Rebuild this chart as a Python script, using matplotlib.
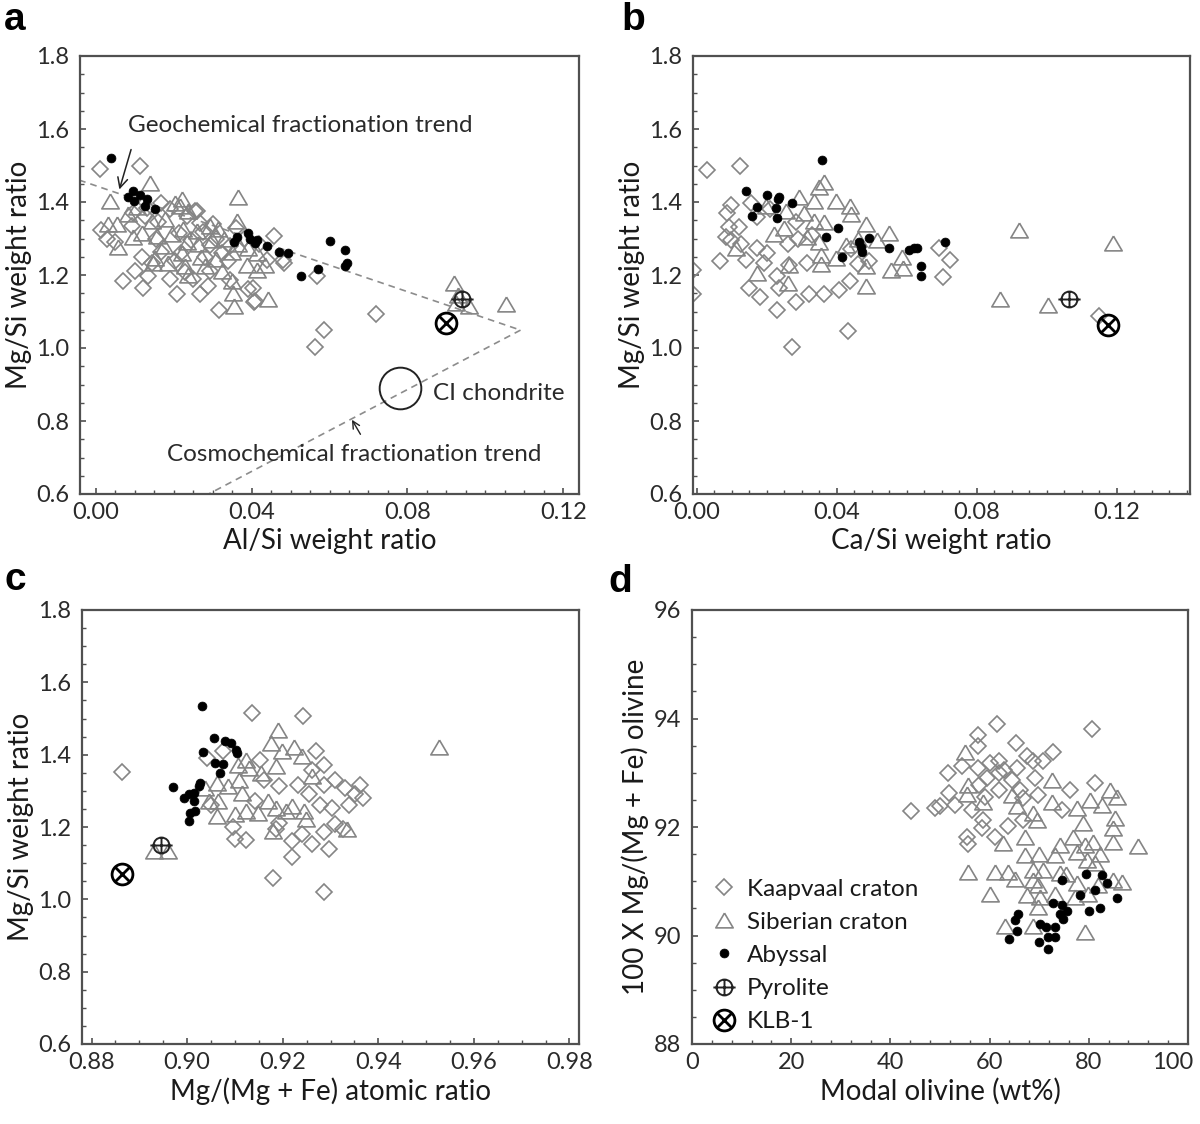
import matplotlib
matplotlib.use('Agg')
import matplotlib.pyplot as plt
from matplotlib.path import Path
from matplotlib.ticker import MultipleLocator, FormatStrFormatter, FuncFormatter

# ---------------- data ----------------
# panel a: Al/Si vs Mg/Si
a_kaapvaal = [(0.0011, 1.490), (0.0114, 1.499), (0.0015, 1.324), (0.0028, 1.300), (0.0071, 1.183),
              (0.0101, 1.210), (0.0122, 1.165), (0.0135, 1.197), (0.0127, 1.362), (0.0131, 1.384),
              (0.0208, 1.149), (0.0268, 1.148), (0.0289, 1.170), (0.0317, 1.105), (0.0392, 1.161),
              (0.0407, 1.127), (0.0458, 1.306), (0.0482, 1.241), (0.0567, 1.197), (0.0585, 1.049),
              (0.0562, 1.003), (0.0718, 1.092), (0.0268, 1.342), (0.0293, 1.282), (0.0340, 1.237),
              (0.0293, 1.210), (0.0323, 1.259), (0.0169, 1.264), (0.0204, 1.237), (0.0234, 1.362),
              (0.0259, 1.375), (0.0169, 1.398), (0.0190, 1.380), (0.0118, 1.250), (0.0144, 1.232),
              (0.0256, 1.374), (0.0230, 1.207), (0.0280, 1.250), (0.0300, 1.340), (0.0403, 1.164),
              (0.0408, 1.130), (0.0093, 1.335), (0.0155, 1.300), (0.0215, 1.315), (0.0245, 1.295),
              (0.0275, 1.318), (0.0310, 1.300), (0.0345, 1.280), (0.0360, 1.330), (0.0380, 1.300),
              (0.0420, 1.285), (0.0440, 1.240), (0.0483, 1.232), (0.0190, 1.190), (0.0250, 1.190),
              (0.0220, 1.260), (0.0160, 1.345), (0.0050, 1.290), (0.0345, 1.185), (0.0095, 1.370)]
a_siberian = [(0.0037, 1.402), (0.0032, 1.340), (0.0054, 1.340), (0.0058, 1.277), (0.0084, 1.366),
              (0.0097, 1.304), (0.0139, 1.451), (0.0144, 1.348), (0.0157, 1.308), (0.0178, 1.353),
              (0.0204, 1.398), (0.0221, 1.407), (0.0216, 1.389), (0.0238, 1.375), (0.0195, 1.313),
              (0.0225, 1.326), (0.0234, 1.291), (0.0221, 1.259), (0.0152, 1.246), (0.0148, 1.232),
              (0.0186, 1.232), (0.0229, 1.224), (0.0238, 1.201), (0.0263, 1.286), (0.0293, 1.335),
              (0.0315, 1.326), (0.0298, 1.295), (0.0366, 1.415), (0.0362, 1.348), (0.0366, 1.286),
              (0.0349, 1.264), (0.0323, 1.210), (0.0349, 1.183), (0.0353, 1.152), (0.0356, 1.116),
              (0.0388, 1.228), (0.0413, 1.214), (0.0435, 1.228), (0.0443, 1.134), (0.0413, 1.259),
              (0.0919, 1.178), (0.0929, 1.145), (0.0958, 1.116), (0.1052, 1.120), (0.0924, 1.124),
              (0.0120, 1.315), (0.0175, 1.280), (0.0270, 1.250), (0.0280, 1.225), (0.0330, 1.300),
              (0.0390, 1.275), (0.0105, 1.385), (0.0260, 1.320), (0.0310, 1.245)]
a_abyssal = [(0.0040, 1.520), (0.0082, 1.415), (0.0097, 1.431), (0.0099, 1.402), (0.0114, 1.420),
             (0.0127, 1.389), (0.0133, 1.408), (0.0152, 1.380), (0.0355, 1.290), (0.0362, 1.304),
             (0.0390, 1.315), (0.0396, 1.300), (0.0409, 1.288), (0.0415, 1.295), (0.0439, 1.279),
             (0.0471, 1.263), (0.0494, 1.261), (0.0526, 1.198), (0.0571, 1.216), (0.0600, 1.293),
             (0.0639, 1.269), (0.0639, 1.226), (0.0645, 1.232)]
a_pyrolite = (0.0939, 1.135)
a_klb1 = (0.0900, 1.068)
ci_chondrite = (0.078, 0.891)
geo_trend_x = [-0.0042, 0.109]
geo_trend_y = [1.460, 1.049]
cosmo_trend_x = [0.109, 0.029]
cosmo_trend_y = [1.049, 0.600]

# panel b: Ca/Si vs Mg/Si
b_kaapvaal = [(0.0031, 1.489), (0.0123, 1.500), (-0.0010, 1.213), (-0.0010, 1.149), (0.0066, 1.237),
              (0.0088, 1.371), (0.0098, 1.393), (0.0093, 1.332), (0.0121, 1.332), (0.0083, 1.304),
              (0.0098, 1.295), (0.0155, 1.398), (0.0174, 1.358), (0.0126, 1.286), (0.0141, 1.241),
              (0.0174, 1.273), (0.0202, 1.259), (0.0193, 1.232), (0.0150, 1.165), (0.0181, 1.139),
              (0.0231, 1.197), (0.0236, 1.165), (0.0231, 1.103), (0.0260, 1.286), (0.0284, 1.344),
              (0.0265, 1.228), (0.0284, 1.125), (0.0320, 1.148), (0.0317, 1.232), (0.0365, 1.148),
              (0.0406, 1.159), (0.0438, 1.183), (0.0434, 1.047), (0.0272, 1.002), (0.0494, 1.237),
              (0.0692, 1.275), (0.0725, 1.241), (0.0703, 1.194), (0.1149, 1.087), (0.0290, 1.300),
              (0.0330, 1.310), (0.0210, 1.380), (0.0440, 1.270), (0.0460, 1.230)]
b_siberian = [(0.0350, 1.442), (0.0365, 1.456), (0.0293, 1.415), (0.0336, 1.402), (0.0398, 1.402),
              (0.0198, 1.389), (0.0255, 1.375), (0.0308, 1.371), (0.0438, 1.389), (0.0441, 1.366),
              (0.0336, 1.347), (0.0365, 1.344), (0.0484, 1.340), (0.0222, 1.313), (0.0317, 1.304),
              (0.0350, 1.290), (0.0427, 1.282), (0.0517, 1.295), (0.0549, 1.315), (0.0112, 1.273),
              (0.0174, 1.206), (0.0260, 1.179), (0.0355, 1.255), (0.0398, 1.246), (0.0355, 1.231),
              (0.0484, 1.224), (0.0484, 1.170), (0.0556, 1.215), (0.0589, 1.219), (0.0265, 1.228),
              (0.0921, 1.322), (0.0866, 1.135), (0.1003, 1.118), (0.1189, 1.288), (0.0586, 1.250),
              (0.0460, 1.300), (0.0250, 1.330)]
b_abyssal = [(0.0358, 1.516), (0.0142, 1.431), (0.0200, 1.420), (0.0236, 1.415), (0.0234, 1.407),
             (0.0174, 1.386), (0.0226, 1.384), (0.0274, 1.398), (0.0231, 1.356), (0.0158, 1.362),
             (0.0403, 1.329), (0.0370, 1.304), (0.0463, 1.290), (0.0470, 1.277), (0.0474, 1.264),
             (0.0494, 1.302), (0.0551, 1.273), (0.0608, 1.268), (0.0620, 1.273), (0.0629, 1.273),
             (0.0642, 1.224), (0.0642, 1.197), (0.0711, 1.290), (0.0417, 1.250)]
b_pyrolite = (0.1063, 1.133)
b_klb1 = (0.1176, 1.063)

# panel c: Mg/(Mg+Fe) vs Mg/Si
c_kaapvaal = [(0.9136, 1.516), (0.9243, 1.507), (0.9076, 1.410), (0.9041, 1.390), (0.9152, 1.386),
              (0.9269, 1.409), (0.9286, 1.372), (0.9193, 1.313), (0.9231, 1.317), (0.9255, 1.290),
              (0.9286, 1.317), (0.9310, 1.331), (0.9331, 1.308), (0.9362, 1.317), (0.9369, 1.281),
              (0.9351, 1.290), (0.9338, 1.262), (0.9303, 1.253), (0.9279, 1.262), (0.9193, 1.212),
              (0.9186, 1.194), (0.9096, 1.199), (0.9100, 1.167), (0.9124, 1.164), (0.9220, 1.162),
              (0.9241, 1.180), (0.9262, 1.153), (0.9296, 1.139), (0.9220, 1.118), (0.9286, 1.185),
              (0.9310, 1.208), (0.9327, 1.194), (0.9180, 1.060), (0.9286, 1.021), (0.9262, 1.358),
              (0.9141, 1.272), (0.8863, 1.352), (0.9050, 1.260), (0.9160, 1.330)]
c_siberian = [(0.9191, 1.468), (0.9175, 1.431), (0.9198, 1.409), (0.9224, 1.422), (0.9240, 1.395),
              (0.9185, 1.368), (0.9124, 1.386), (0.9130, 1.363), (0.9107, 1.372), (0.9155, 1.349),
              (0.9109, 1.331), (0.9086, 1.313), (0.9062, 1.322), (0.9038, 1.308), (0.9114, 1.295),
              (0.9065, 1.272), (0.9045, 1.272), (0.9062, 1.231), (0.9100, 1.235), (0.9124, 1.244),
              (0.9148, 1.240), (0.9169, 1.272), (0.9186, 1.253), (0.9207, 1.244), (0.9220, 1.258),
              (0.9245, 1.244), (0.9262, 1.340), (0.9179, 1.190), (0.9334, 1.194), (0.9248, 1.221),
              (0.9528, 1.421), (0.8931, 1.135), (0.8959, 1.135)]
c_abyssal = [(0.9031, 1.535), (0.9057, 1.447), (0.9079, 1.438), (0.9091, 1.431), (0.9103, 1.413),
             (0.9105, 1.404), (0.9033, 1.407), (0.9059, 1.377), (0.9076, 1.374), (0.9069, 1.349),
             (0.8971, 1.310), (0.8993, 1.281), (0.9003, 1.290), (0.9014, 1.295), (0.9024, 1.313),
             (0.9014, 1.272), (0.9007, 1.240), (0.9003, 1.217), (0.9017, 1.244), (0.9027, 1.322)]
c_pyrolite = (0.8945, 1.149)
c_klb1 = (0.8863, 1.071)

# panel d: modal olivine vs Mg# olivine
d_kaapvaal = [(61.4, 93.89), (80.6, 93.80), (57.7, 93.70), (57.7, 93.49), (65.3, 93.54), (72.7, 93.39),
              (51.7, 93.00), (54.4, 93.12), (57.7, 93.09), (60.1, 93.18), (61.8, 93.21), (67.5, 93.31),
              (68.8, 93.21), (70.8, 93.21), (65.5, 93.09), (61.8, 93.00), (59.4, 92.90), (64.5, 92.87),
              (69.2, 92.90), (57.9, 92.78), (61.8, 92.69), (66.1, 92.69), (69.8, 92.59), (76.2, 92.69),
              (81.3, 92.81), (51.9, 92.62), (49.9, 92.39), (53.0, 92.41), (56.4, 92.31), (44.1, 92.30),
              (49.0, 92.35), (66.8, 92.53), (74.5, 92.31), (58.7, 92.13), (58.4, 91.98), (63.8, 92.01),
              (61.1, 91.82), (55.5, 91.82), (55.7, 91.69), (66.8, 92.13), (63.0, 93.05), (59.0, 92.55)]
d_siberian = [(55.0, 93.39), (55.7, 92.78), (58.7, 92.47), (64.5, 92.59), (72.5, 92.87), (65.5, 92.38),
              (68.8, 92.25), (69.5, 92.13), (72.5, 92.47), (77.6, 92.35), (80.2, 92.50), (82.6, 92.41),
              (84.3, 92.69), (85.6, 92.56), (85.3, 92.16), (84.9, 91.98), (84.9, 91.73), (78.9, 92.07),
              (76.9, 91.82), (79.2, 91.67), (80.9, 91.73), (82.3, 91.51), (90.0, 91.65), (67.1, 91.82),
              (62.8, 91.70), (67.1, 91.48), (70.0, 91.51), (73.2, 91.48), (74.2, 91.67), (77.6, 91.54),
              (79.6, 91.39), (81.3, 91.33), (55.7, 91.17), (61.1, 91.17), (63.8, 91.17), (65.1, 91.05),
              (68.8, 91.20), (70.8, 91.20), (68.8, 91.02), (69.8, 90.93), (75.5, 91.14), (77.6, 90.96),
              (84.9, 91.02), (86.6, 90.99), (60.1, 90.77), (67.5, 90.74), (70.2, 90.71), (73.2, 90.77),
              (77.2, 90.71), (79.9, 90.77), (81.9, 90.93), (69.8, 90.52), (63.1, 90.17), (68.8, 90.17),
              (79.2, 90.06), (74.2, 91.15), (55.5, 92.61)]
d_abyssal = [(65.8, 90.40), (65.1, 90.28), (65.5, 90.09), (64.0, 89.94), (70.2, 90.22), (71.4, 90.15),
             (73.2, 90.15), (70.0, 89.88), (71.8, 89.97), (73.2, 89.97), (71.8, 89.75), (72.8, 90.59),
             (74.5, 90.56), (75.7, 90.45), (74.7, 90.31), (74.2, 90.40), (74.5, 91.02), (79.4, 91.14),
             (82.6, 91.11), (81.3, 90.83), (78.2, 90.74), (80.1, 90.45), (82.3, 90.51), (85.6, 90.69),
             (83.6, 90.96)]

# ---------------- style ----------------
plt.rcParams['font.family'] = ['Lato', 'DejaVu Sans']
GREY = '#858585'
FRAME = '#505050'
TICK_FS = 17
LABEL_FS = 20
NOTE_FS = 17.5

tri = Path([(0, 0.85), (-1, -0.85), (1, -0.85), (0, 0.85)])
plus_circle = Path.make_compound_path(
    Path.circle((0, 0), 1.0),
    Path([(-1.4, 0), (1.4, 0)]), Path([(0, -1.0), (0, 1.0)]))
cross_circle = Path.make_compound_path(
    Path.circle((0, 0), 1.0),
    Path([(-0.71, -0.71), (0.71, 0.71)]), Path([(-0.71, 0.71), (0.71, -0.71)]))


def xy(pts):
    return [p[0] for p in pts], [p[1] for p in pts]


def draw_groups(ax, kaap, sib, aby, pyro, klb):
    x, y = xy(kaap)
    ax.plot(x, y, ls='none', marker='D', ms=8.2, mfc='none', mec=GREY, mew=1.2,
            label='Kaapvaal craton')
    x, y = xy(sib)
    ax.plot(x, y, ls='none', marker=tri, ms=12.5, mfc='none', mec=GREY, mew=1.2,
            label='Siberian craton')
    x, y = xy(aby)
    ax.plot(x, y, ls='none', marker='o', ms=6.4, mfc='black', mec='black', mew=0.5,
            label='Abyssal')
    ax.plot([pyro[0]], [pyro[1]], ls='none', marker=plus_circle, ms=16, mfc='none',
            mec='#222222', mew=1.4, label='Pyrolite')
    ax.plot([klb[0]], [klb[1]], ls='none', marker=cross_circle, ms=15, mfc='none',
            mec='black', mew=2.0, label='KLB-1')


def style_axes(ax, xmaj, xmin, ymaj, ymin):
    for s in ax.spines.values():
        s.set_color(FRAME)
        s.set_linewidth(1.6)
    ax.xaxis.set_major_locator(MultipleLocator(xmaj))
    ax.xaxis.set_minor_locator(MultipleLocator(xmin))
    ax.yaxis.set_major_locator(MultipleLocator(ymaj))
    ax.yaxis.set_minor_locator(MultipleLocator(ymin))
    ax.tick_params(which='both', direction='in', top=False, right=False, color=FRAME,
                   labelsize=TICK_FS, labelcolor='#2a2a2a')
    ax.tick_params(which='major', length=4, width=1.2)
    ax.tick_params(which='minor', length=3, width=1.0)
    ax.tick_params(axis='y', pad=8)
    ax.tick_params(axis='x', pad=6)


fig = plt.figure(figsize=(12, 11.24), dpi=100)
W, H = 1200.0, 1124.0


def add_ax(l, t, r, b):
    return fig.add_axes([l / W, 1 - b / H, (r - l) / W, (b - t) / H])


ax_a = add_ax(80, 56, 579, 494)
ax_b = add_ax(693, 56, 1190, 494)
ax_c = add_ax(82, 610, 579, 1044)
ax_d = add_ax(692, 610, 1188, 1044)

LABEL_KW = dict(fontsize=LABEL_FS, color='#1a1a1a')

# ---- a ----
ax = ax_a
ax.plot(geo_trend_x, geo_trend_y, ls=(0, (4, 3)), color='#8c8c8c', lw=1.2)
ax.plot(cosmo_trend_x, cosmo_trend_y, ls=(0, (4, 3)), color='#8c8c8c', lw=1.2)
draw_groups(ax, a_kaapvaal, a_siberian, a_abyssal, a_pyrolite, a_klb1)
ax.plot([ci_chondrite[0]], [ci_chondrite[1]], ls='none', marker='o', ms=30, mfc='none',
        mec='#222222', mew=1.4)
ax.text(0.0865, 0.876, 'CI chondrite', fontsize=NOTE_FS, color='#2a2a2a', va='center')
ax.annotate('', xy=(0.0059, 1.427), xytext=(0.0093, 1.551),
            arrowprops=dict(arrowstyle='->', color='#222222', lw=1.1, mutation_scale=18))
ax.text(0.0084, 1.609, 'Geochemical fractionation trend', fontsize=NOTE_FS, color='#2a2a2a',
        va='center')
ax.annotate('', xy=(0.0654, 0.810), xytext=(0.0683, 0.757),
            arrowprops=dict(arrowstyle='->', color='#222222', lw=1.0, mutation_scale=13))
ax.text(0.0182, 0.709, 'Cosmochemical fractionation trend', fontsize=NOTE_FS, color='#2a2a2a',
        va='center')
ax.set_xlim(-0.004, 0.124)
ax.set_ylim(0.6, 1.8)
style_axes(ax, 0.04, 0.005, 0.2, 0.05)
ax.xaxis.set_major_formatter(FormatStrFormatter('%.2f'))
ax.yaxis.set_major_formatter(FormatStrFormatter('%.1f'))
ax.set_xlabel('Al/Si weight ratio', labelpad=3, **LABEL_KW)
ax.set_ylabel('Mg/Si weight ratio', labelpad=3, **LABEL_KW)

# ---- b ----
ax = ax_b
draw_groups(ax, b_kaapvaal, b_siberian, b_abyssal, b_pyrolite, b_klb1)
ax.set_xlim(-0.001, 0.141)
ax.set_ylim(0.6, 1.8)
style_axes(ax, 0.04, 0.005, 0.2, 0.05)
ax.xaxis.set_major_formatter(FormatStrFormatter('%.2f'))
ax.yaxis.set_major_formatter(FormatStrFormatter('%.1f'))
ax.set_xlabel('Ca/Si weight ratio', labelpad=3, **LABEL_KW)
ax.set_ylabel('Mg/Si weight ratio', labelpad=3, **LABEL_KW)

# ---- c ----
ax = ax_c
draw_groups(ax, c_kaapvaal, c_siberian, c_abyssal, c_pyrolite, c_klb1)
ax.set_xlim(0.878, 0.982)
ax.set_ylim(0.6, 1.8)
style_axes(ax, 0.02, 0.005, 0.2, 0.05)
ax.xaxis.set_major_formatter(FormatStrFormatter('%.2f'))
ax.yaxis.set_major_formatter(FormatStrFormatter('%.1f'))
ax.set_xlabel('Mg/(Mg + Fe) atomic ratio', labelpad=3, **LABEL_KW)
ax.set_ylabel('Mg/Si weight ratio', labelpad=3, **LABEL_KW)

# ---- d ----
ax = ax_d
draw_groups(ax, d_kaapvaal, d_siberian, d_abyssal, (-50, 0), (-50, 0))
ax.set_xlim(0, 100)
ax.set_ylim(88, 96)
style_axes(ax, 20, 4, 2, 0.5)
# the last label sits at the frame edge; draw it right-aligned so it stays in the figure
ax.xaxis.set_major_formatter(FuncFormatter(lambda v, p: '' if v >= 100 else '%d' % v))
ax.text(101.0, -0.019, '100', transform=ax.get_xaxis_transform(), ha='right', va='top',
        fontsize=TICK_FS, color='#2a2a2a')
ax.set_xlabel('Modal olivine (wt%)', labelpad=3, **LABEL_KW)
ax.set_ylabel('100 X Mg/(Mg + Fe) olivine', labelpad=3, **LABEL_KW)
ax.legend(loc='upper left', bbox_to_anchor=(0.04, 0.381), frameon=False, fontsize=NOTE_FS,
          borderpad=0, handlelength=1.0, handletextpad=0.45, labelspacing=0.5,
          borderaxespad=0, labelcolor='#1a1a1a')

for letter, px, py in [('a', 4, 30), ('b', 621, 30), ('c', 4, 590), ('d', 608, 592)]:
    fig.text(px / W, 1 - py / H, letter, fontsize=28, fontweight='bold',
             family='Liberation Sans', va='baseline', ha='left')

fig.savefig('out.png', dpi=100)
